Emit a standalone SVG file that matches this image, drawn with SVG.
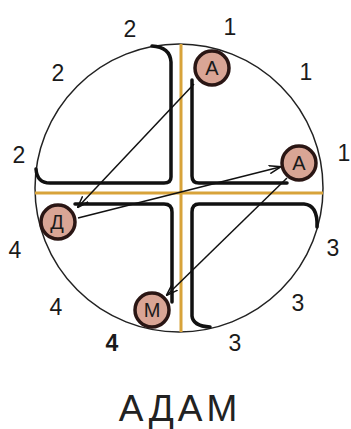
<svg xmlns="http://www.w3.org/2000/svg" width="351" height="429" viewBox="0 0 351 429">
<defs>
<style>
.orange{stroke:#d8a33a;stroke-width:3;fill:none}
.wall{stroke:#111;stroke-width:3.5;fill:none;stroke-linecap:round;stroke-linejoin:round}
.node{fill:#d9a595;stroke:#2a1614;stroke-width:3.5}
.nl{font-family:"Liberation Sans",Arial,sans-serif;font-size:20px;fill:#1a1a1a;text-anchor:middle}
.num{font-family:"Liberation Sans",Arial,sans-serif;font-size:23px;fill:#1a1a1a;text-anchor:middle}
.conn{stroke:#111;stroke-width:1.5;fill:none}
</style>
<marker id="arr" viewBox="0 0 12 10" refX="11" refY="5" markerWidth="12" markerHeight="10" markerUnits="userSpaceOnUse" orient="auto">
<path d="M0,1 L12,5 L0,9" fill="none" stroke="#111" stroke-width="1.5"/>
</marker>
</defs>
<rect width="351" height="429" fill="#ffffff"/>
<circle cx="179" cy="188" r="144" fill="none" stroke="#222" stroke-width="1.5"/>
<g id="axes">
<line class="orange" x1="181" y1="44" x2="181" y2="332"/>
<line class="orange" x1="35" y1="193" x2="323" y2="193"/>
</g>
<g id="walls">
<path class="wall" d="M152,46 Q170,47 171,62 L171,177 Q171,183 164,183 L50,183 Q37,183 36,169"/>
<path class="wall" d="M192,80 L192,176 Q192,183 199,183 L287,183"/>
<path class="wall" d="M75,204 L164,204 Q172,204 172,212 L172,302"/>
<path class="wall" d="M317,227 Q318,205 304,204 L199,204 Q192,204 192,212 L192,316 Q193,326 210,327"/>
</g>
<g id="connectors">
<line class="conn" x1="194" y1="84" x2="78" y2="207" marker-end="url(#arr)"/>
<line class="conn" x1="78" y1="218" x2="280" y2="167" marker-end="url(#arr)"/>
<line class="conn" x1="287" y1="178" x2="167" y2="295" marker-end="url(#arr)"/>
</g>
<g id="node-a1">
<circle class="node" cx="212" cy="68" r="17"/>
<text class="nl" x="212" y="75">А</text>
</g>
<g id="node-a2">
<circle class="node" cx="299" cy="163" r="17"/>
<text class="nl" x="299" y="170">А</text>
</g>
<g id="node-d">
<circle class="node" cx="58" cy="222" r="17"/>
<text class="nl" x="57" y="229">Д</text>
</g>
<g id="node-m">
<circle class="node" cx="152" cy="310" r="17"/>
<text class="nl" x="152" y="317">М</text>
</g>
<g id="labels">
<text class="num" x="130" y="37">2</text>
<text class="num" x="230" y="35">1</text>
<text class="num" x="58" y="81">2</text>
<text class="num" x="306" y="80">1</text>
<text class="num" x="19" y="163">2</text>
<text class="num" x="344" y="161">1</text>
<text class="num" x="15" y="258">4</text>
<text class="num" x="333" y="256">3</text>
<text class="num" x="56" y="315">4</text>
<text class="num" x="298" y="311">3</text>
<text class="num" x="112" y="351" font-weight="bold">4</text>
<text class="num" x="235" y="351">3</text>
<text x="180" y="421" font-family="Liberation Sans,Arial,sans-serif" font-size="37" fill="#222" text-anchor="middle" letter-spacing="4">АДАМ</text>
</g>
</svg>
